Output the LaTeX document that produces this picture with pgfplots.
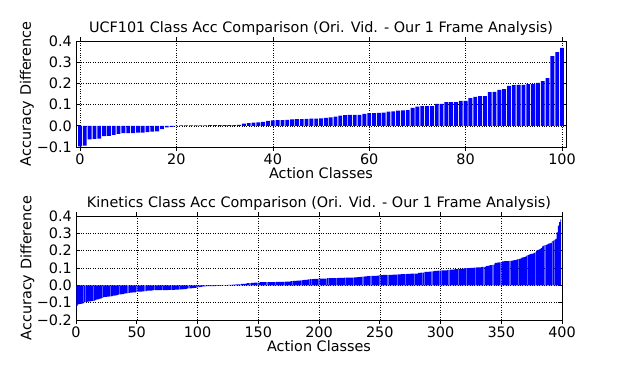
\documentclass[border=0pt]{standalone}
\usepackage{fontspec}
\setmainfont{DejaVu Sans}
\usepackage{pgfplots}
\pgfplotsset{compat=1.18}
\pgfplotsset{
 mpl/.style={
  scale only axis,
  axis line style={black, line width=0.8bp},
  tick align=inside,
  major tick length=4bp,
  every tick/.style={black, line width=0.6bp},
  grid=major,
  major grid style={black, line width=0.5bp, dash pattern=on 0.8bp off 1.6bp},
  ybar, bar width=0.8,
  font=\fontsize{14.4bp}{17bp}\selectfont,
  tick label style={font=\fontsize{14.4bp}{17bp}\selectfont},
  xticklabel style={anchor=base, yshift=-14bp, inner sep=0pt},
  yticklabel style={anchor=east, xshift=-4bp, inner sep=0pt},
  title style={at={(axis description cs:0.5,1)}, anchor=base, yshift=3bp},
  xlabel style={at={(axis description cs:0.5,0)}, anchor=base, yshift=-32bp},
  ylabel style={at={(axis description cs:-0.1,0.5)}, anchor=center},
  ylabel={Accuracy Difference}, xlabel={Action Classes},
 }
}
\begin{document}
\begin{tikzpicture}
\useasboundingbox (0,0) rectangle (618bp,373bp);
\begin{axis}[mpl, at={(76bp,226bp)}, anchor=south west, width=490bp, height=106bp,
  xmin=-0.83, xmax=100.83, ymin=-0.1, ymax=0.4,
  xtick={0,20,40,60,80,100}, xticklabels={0,20,40,60,80,100},
  ytick={-0.1,0,0.1,0.2,0.3,0.4}, yticklabels={−0.1,0.0,0.1,0.2,0.3,0.4},
  title={UCF101 Class Acc Comparison (Ori. Vid. - Our 1 Frame Analysis)}]
\addplot[fill=blue, draw=none] coordinates {
(0,-0.097)(1,-0.094)(2,-0.064)(3,-0.062)(4,-0.060)(5,-0.049)(6,-0.047)(7,-0.043)(8,-0.038)(9,-0.035)
(10,-0.035)(11,-0.035)(12,-0.032)(13,-0.032)(14,-0.030)(15,-0.027)(16,-0.026)(17,-0.016)(18,-0.008)(19,-0.005)
(20,-0.002)(21,0.002)(22,0.002)(23,0.002)(24,0.002)(25,0.002)(26,0.002)(27,0.003)(28,0.003)(29,0.003)
(30,0.003)(31,0.003)(32,0.003)(33,0.004)(34,0.010)(35,0.013)(36,0.015)(37,0.016)(38,0.018)(39,0.023)
(40,0.025)(41,0.027)(42,0.027)(43,0.028)(44,0.030)(45,0.032)(46,0.032)(47,0.033)(48,0.034)(49,0.034)
(50,0.035)(51,0.037)(52,0.040)(53,0.043)(54,0.048)(55,0.050)(56,0.051)(57,0.051)(58,0.052)(59,0.056)
(60,0.060)(61,0.060)(62,0.061)(63,0.062)(64,0.067)(65,0.068)(66,0.071)(67,0.073)(68,0.074)(69,0.084)
(70,0.090)(71,0.093)(72,0.093)(73,0.093)(74,0.103)(75,0.104)(76,0.112)(77,0.112)(78,0.112)(79,0.117)
(80,0.118)(81,0.131)(82,0.136)(83,0.140)(84,0.140)(85,0.159)(86,0.160)(87,0.169)(88,0.173)(89,0.188)
(90,0.192)(91,0.193)(92,0.193)(93,0.197)(94,0.197)(95,0.202)(96,0.211)(97,0.225)(98,0.329)(99,0.348)
(100,0.367)
};
\end{axis}
\begin{axis}[mpl, at={(76bp,53bp)}, anchor=south west, width=486bp, height=104bp,
  xmin=0, xmax=400, ymin=-0.2, ymax=0.4,
  xtick={0,50,100,150,200,250,300,350,400}, xticklabels={0,50,100,150,200,250,300,350,400},
  ytick={-0.2,-0.1,0,0.1,0.2,0.3,0.4}, yticklabels={−0.2,−0.1,0.0,0.1,0.2,0.3,0.4},
  title={Kinetics Class Acc Comparison (Ori. Vid. - Our 1 Frame Analysis)}]
\addplot[fill=blue, draw=none, bar width=0.75] coordinates {
(0,-0.135)(1,-0.118)(2,-0.110)(3,-0.108)(4,-0.107)(5,-0.106)(6,-0.104)(7,-0.098)(8,-0.096)(9,-0.095)
(10,-0.094)(11,-0.093)(12,-0.092)(13,-0.091)(14,-0.090)(15,-0.089)(16,-0.086)(17,-0.083)(18,-0.081)(19,-0.079)
(20,-0.076)(21,-0.075)(22,-0.073)(23,-0.068)(24,-0.067)(25,-0.066)(26,-0.065)(27,-0.065)(28,-0.064)(29,-0.063)
(30,-0.062)(31,-0.060)(32,-0.059)(33,-0.058)(34,-0.056)(35,-0.053)(36,-0.052)(37,-0.052)(38,-0.051)(39,-0.050)
(40,-0.048)(41,-0.046)(42,-0.046)(43,-0.045)(44,-0.044)(45,-0.042)(46,-0.042)(47,-0.041)(48,-0.041)(49,-0.040)
(50,-0.038)(51,-0.037)(52,-0.037)(53,-0.036)(54,-0.036)(55,-0.035)(56,-0.035)(57,-0.034)(58,-0.033)(59,-0.031)
(60,-0.031)(61,-0.030)(62,-0.030)(63,-0.029)(64,-0.028)(65,-0.028)(66,-0.028)(67,-0.028)(68,-0.027)(69,-0.027)
(70,-0.027)(71,-0.027)(72,-0.027)(73,-0.027)(74,-0.027)(75,-0.027)(76,-0.026)(77,-0.026)(78,-0.026)(79,-0.026)
(80,-0.026)(81,-0.026)(82,-0.025)(83,-0.025)(84,-0.025)(85,-0.025)(86,-0.023)(87,-0.023)(88,-0.023)(89,-0.022)
(90,-0.022)(91,-0.021)(92,-0.018)(93,-0.018)(94,-0.017)(95,-0.017)(96,-0.016)(97,-0.016)(98,-0.015)(99,-0.014)
(100,-0.012)(101,-0.011)(102,-0.010)(103,-0.009)(104,-0.008)(105,-0.006)(106,-0.006)(107,-0.006)(108,-0.005)(109,-0.005)
(110,-0.005)(111,-0.005)(112,-0.004)(113,-0.004)(114,-0.004)(115,-0.004)(116,-0.003)(117,-0.003)(118,-0.003)(119,-0.003)
(120,-0.002)(121,-0.002)(122,-0.002)(123,-0.001)(124,-0.001)(125,0.002)(126,0.002)(127,0.003)(128,0.003)(129,0.004)
(130,0.004)(131,0.004)(132,0.005)(133,0.005)(134,0.006)(135,0.006)(136,0.008)(137,0.008)(138,0.009)(139,0.009)
(140,0.010)(141,0.013)(142,0.013)(143,0.013)(144,0.014)(145,0.014)(146,0.014)(147,0.015)(148,0.015)(149,0.015)
(150,0.016)(151,0.016)(152,0.018)(153,0.018)(154,0.018)(155,0.018)(156,0.018)(157,0.019)(158,0.019)(159,0.019)
(160,0.019)(161,0.019)(162,0.019)(163,0.019)(164,0.019)(165,0.020)(166,0.020)(167,0.020)(168,0.020)(169,0.020)
(170,0.020)(171,0.020)(172,0.021)(173,0.021)(174,0.021)(175,0.021)(176,0.021)(177,0.025)(178,0.025)(179,0.026)
(180,0.026)(181,0.026)(182,0.027)(183,0.027)(184,0.027)(185,0.028)(186,0.028)(187,0.030)(188,0.031)(189,0.031)
(190,0.032)(191,0.035)(192,0.035)(193,0.036)(194,0.036)(195,0.036)(196,0.037)(197,0.037)(198,0.037)(199,0.037)
(200,0.038)(201,0.038)(202,0.038)(203,0.038)(204,0.039)(205,0.039)(206,0.039)(207,0.041)(208,0.041)(209,0.041)
(210,0.041)(211,0.042)(212,0.042)(213,0.042)(214,0.042)(215,0.042)(216,0.043)(217,0.043)(218,0.043)(219,0.043)
(220,0.043)(221,0.044)(222,0.044)(223,0.044)(224,0.044)(225,0.045)(226,0.045)(227,0.045)(228,0.045)(229,0.046)
(230,0.046)(231,0.046)(232,0.048)(233,0.048)(234,0.049)(235,0.049)(236,0.050)(237,0.050)(238,0.051)(239,0.051)
(240,0.053)(241,0.053)(242,0.054)(243,0.054)(244,0.054)(245,0.055)(246,0.055)(247,0.055)(248,0.056)(249,0.056)
(250,0.059)(251,0.059)(252,0.059)(253,0.060)(254,0.060)(255,0.060)(256,0.060)(257,0.061)(258,0.061)(259,0.061)
(260,0.061)(261,0.062)(262,0.062)(263,0.062)(264,0.062)(265,0.063)(266,0.063)(267,0.063)(268,0.064)(269,0.064)
(270,0.065)(271,0.065)(272,0.065)(273,0.066)(274,0.066)(275,0.066)(276,0.067)(277,0.067)(278,0.067)(279,0.068)
(280,0.068)(281,0.068)(282,0.072)(283,0.072)(284,0.073)(285,0.073)(286,0.074)(287,0.077)(288,0.077)(289,0.078)
(290,0.078)(291,0.079)(292,0.079)(293,0.080)(294,0.080)(295,0.084)(296,0.084)(297,0.084)(298,0.085)(299,0.085)
(300,0.085)(301,0.086)(302,0.086)(303,0.086)(304,0.087)(305,0.087)(306,0.089)(307,0.089)(308,0.090)(309,0.090)
(310,0.091)(311,0.091)(312,0.093)(313,0.093)(314,0.094)(315,0.094)(316,0.095)(317,0.095)(318,0.096)(319,0.096)
(320,0.099)(321,0.099)(322,0.100)(323,0.100)(324,0.100)(325,0.101)(326,0.101)(327,0.101)(328,0.102)(329,0.102)
(330,0.103)(331,0.103)(332,0.104)(333,0.104)(334,0.106)(335,0.107)(336,0.107)(337,0.108)(338,0.111)(339,0.112)
(340,0.113)(341,0.116)(342,0.117)(343,0.118)(344,0.120)(345,0.129)(346,0.130)(347,0.131)(348,0.132)(349,0.132)
(350,0.133)(351,0.138)(352,0.138)(353,0.139)(354,0.139)(355,0.140)(356,0.140)(357,0.141)(358,0.141)(359,0.143)
(360,0.144)(361,0.145)(362,0.146)(363,0.150)(364,0.151)(365,0.153)(366,0.154)(367,0.160)(368,0.162)(369,0.163)
(370,0.165)(371,0.172)(372,0.175)(373,0.177)(374,0.180)(375,0.181)(376,0.183)(377,0.187)(378,0.190)(379,0.200)
(380,0.203)(381,0.206)(382,0.210)(383,0.214)(384,0.225)(385,0.229)(386,0.232)(387,0.234)(388,0.236)(389,0.240)
(390,0.242)(391,0.245)(392,0.255)(393,0.258)(394,0.262)(395,0.268)(396,0.305)(397,0.345)(398,0.365)(399,0.380)
};
\end{axis}
\end{tikzpicture}
\end{document}
